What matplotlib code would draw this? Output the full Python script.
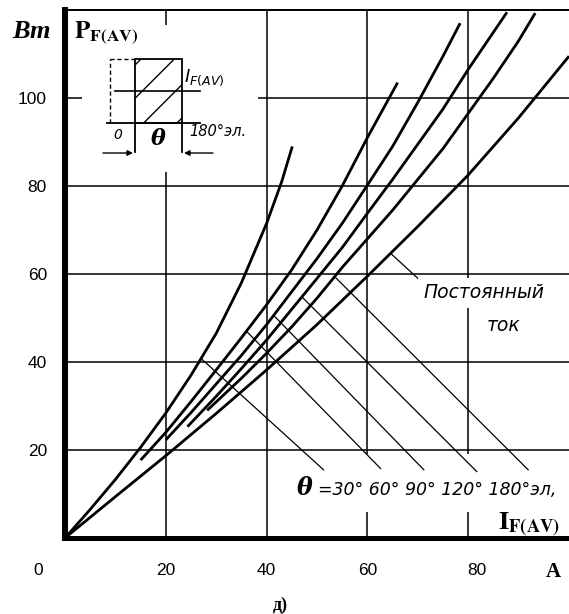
import numpy as np
import matplotlib
matplotlib.use("Agg")
import matplotlib.pyplot as plt
from matplotlib.patches import Rectangle
from matplotlib import transforms

# P_F(AV) [W] vs I_F(AV) [A]
dc_I = [0, 10, 20, 30, 40, 50, 60, 70, 80, 90, 100]
dc_P = [0, 9.4, 18.7, 28.3, 38.2, 48.5, 59.5, 70.8, 82.5, 95.5, 109.5]

th30_I = [0, 5, 10, 15, 20, 25, 30, 35, 40, 43, 45.1]
th30_P = [0, 6.5, 13.3, 20.6, 28.4, 37, 46.5, 58, 71.5, 81, 89]

th60_I = [15, 20, 25, 30, 35, 40, 45, 50, 55, 60, 66]
th60_P = [17.7, 24, 31, 38.2, 45.5, 53, 61, 70, 80, 91, 103.5]

th90_I = [20, 25, 30, 35, 40, 45, 50, 55, 60, 65, 70, 75, 78.4]
th90_P = [22.3, 28.5, 35, 41.5, 48.5, 56, 63.5, 71.5, 80.2, 89, 99, 109.5, 117]

th120_I = [24.3, 30, 35, 40, 45, 50, 55, 60, 65, 70, 75, 80, 87.7]
th120_P = [25.3, 32.2, 38.5, 45, 52, 59, 66, 73.8, 81.5, 89.5, 97.5, 106.5, 119.5]

th180_I = [28.2, 35, 40, 45, 50, 55, 60, 65, 70, 75, 80, 85, 90, 93.3]
th180_P = [29, 36.3, 42, 48, 54.5, 61.5, 68, 74.5, 81.5, 88.5, 96.5, 104.5, 113, 119.3]

theta_curves = [(th30_I, th30_P), (th60_I, th60_P), (th90_I, th90_P),
                (th120_I, th120_P), (th180_I, th180_P)]

# thin leader lines from each curve down to the theta labels
leader_from_I = [27, 36, 41.4, 47, 53.5]
leader_to_I = [51.3, 62.6, 71.2, 81.7, 91.9]
leader_to_P = [15.5, 15.8, 15.5, 15.1, 15.5]
dc_leader_from_I = 64.6
dc_leader_to = (70.5, 58.5)

grid_I = [20, 40, 60, 80]
grid_P = [20, 40, 60, 80, 100]
xtick_vals = [0, 20, 40, 60, 80]
xlabel_shift = {0: -27, 80: 9}   # pixels, as printed in the original

W, H = 569, 614
fig = plt.figure(figsize=(W / 100, H / 100), dpi=100)
ax = fig.add_axes([65 / W, 76 / H, 504 / W, 528 / H])
ax.set_xlim(0, 100)
ax.set_ylim(0, 120)

ax.vlines(grid_I, 0, 120, color="black", lw=1.1, zorder=1)
ax.hlines(grid_P, 0, 100, color="black", lw=1.1, zorder=1)

# white area behind the theta labels
ax.add_patch(Rectangle((45.6, 5.9), 60, 13.2, facecolor="white", edgecolor="none", zorder=2))

for cI, cP in theta_curves + [(dc_I, dc_P)]:
    ax.plot(cI, cP, color="black", lw=2.0, zorder=3, solid_capstyle="butt")

for (cI, cP), fi, ti, tp in zip(theta_curves, leader_from_I, leader_to_I, leader_to_P):
    fp = np.interp(fi, cI, cP)
    ax.plot([fi, ti], [fp, tp], color="black", lw=0.9, zorder=3)
ax.plot([dc_leader_from_I, dc_leader_to[0]],
        [np.interp(dc_leader_from_I, dc_I, dc_P), dc_leader_to[1]],
        color="black", lw=0.9, zorder=3)

ax.text(46.1, 9.8, "θ", family="DejaVu Serif", weight="bold", style="italic",
        fontsize=17, ha="left", va="baseline", zorder=4)
ax.text(50.1, 9.8, "=30° 60° 90° 120° 180°эл,", family="DejaVu Sans", style="italic",
        fontsize=12.5, ha="left", va="baseline", zorder=4)

box = dict(facecolor="white", edgecolor="none", pad=4)
ax.text(83.2, 55.7, "Постоянный", family="DejaVu Sans", style="italic", fontsize=13.5,
        ha="center", va="center", bbox=box, zorder=4)
ax.text(87.0, 48.4, "ток", family="DejaVu Sans", style="italic", fontsize=13.5,
        ha="center", va="center", bbox=box, zorder=4)

ax.text(85.9, 3.2, r"$\mathbf{I}_{\mathbf{F(AV)}}$", math_fontfamily="stix",
        fontsize=19, ha="left", va="center", zorder=4)

# axes styling
ax.set_xticks([])
ax.set_yticks(grid_P)
ax.set_yticklabels([str(v) for v in grid_P], family="Liberation Sans", fontsize=12.5)
ax.tick_params(axis="y", length=0, pad=13)
ax.spines["right"].set_visible(False)
ax.spines["left"].set_linewidth(4.3)
ax.spines["bottom"].set_linewidth(3.6)
ax.spines["top"].set_linewidth(1.4)

for v in xtick_vals:
    tr = transforms.offset_copy(ax.transData, fig=fig, x=xlabel_shift.get(v, 0) * 0.72, y=0,
                                units="points")
    ax.text(v, -7.3, str(v), transform=tr, family="Liberation Sans", fontsize=12.5,
            ha="center", va="center", clip_on=False)

fig.text(553 / W, 1 - 572 / H, "A", family="Liberation Serif", weight="bold", fontsize=15,
         ha="center", va="center")
fig.text(280 / W, 1 - 605 / H, "д)", family="Liberation Serif", weight="bold", fontsize=13,
         ha="center", va="center")
fig.text(32 / W, 1 - 31 / H, "Вт", family="Liberation Serif", weight="bold", style="italic",
         fontsize=19, ha="center", va="center")
fig.text(74 / W, 1 - 33 / H, r"$\mathbf{P}_{\mathbf{F(AV)}}$", math_fontfamily="stix",
         fontsize=18, ha="left", va="center")

# inset: current pulse of width theta
ins = fig.add_axes([82 / W, 1 - 172 / H, 176 / W, 147 / H])
ins.set_xlim(0, 176)
ins.set_ylim(0, 147)
ins.set_xticks([])
ins.set_yticks([])
for s in ins.spines.values():
    s.set_visible(False)
ins.set_facecolor("white")

ins.add_patch(Rectangle((53, 49), 47, 64, fill=False, hatch="/", lw=1.3, edgecolor="black"))
ins.plot([28, 28], [49, 113], color="black", lw=1, dashes=(3, 2))
ins.plot([28, 53], [113, 113], color="black", lw=1, dashes=(3, 2))
ins.plot([33, 118], [81, 81], color="black", lw=1.2)
ins.plot([25, 118], [49, 49], color="black", lw=1.3)
ins.plot([53, 53], [20, 49], color="black", lw=1.3)
ins.plot([100, 100], [20, 49], color="black", lw=1.3)
ins.text(36, 37, "0", family="DejaVu Sans", style="italic", fontsize=10, ha="center", va="center")
ins.text(76, 33, "θ", family="DejaVu Serif", weight="bold", style="italic", fontsize=16,
         ha="center", va="center")
ins.text(107, 40, "180°эл.", family="DejaVu Sans", style="italic", fontsize=10.5,
         ha="left", va="center")
ins.text(102, 94, r"$I_{F(AV)}$", math_fontfamily="dejavusans", fontsize=13,
         ha="left", va="center")
arrow = dict(arrowstyle="-|>", lw=1, color="black", shrinkA=0, shrinkB=0, mutation_scale=8)
ins.annotate("", xy=(51, 19), xytext=(21, 19), arrowprops=arrow)
ins.annotate("", xy=(102, 19), xytext=(131, 19), arrowprops=arrow)

fig.savefig("out.png", dpi=100)
